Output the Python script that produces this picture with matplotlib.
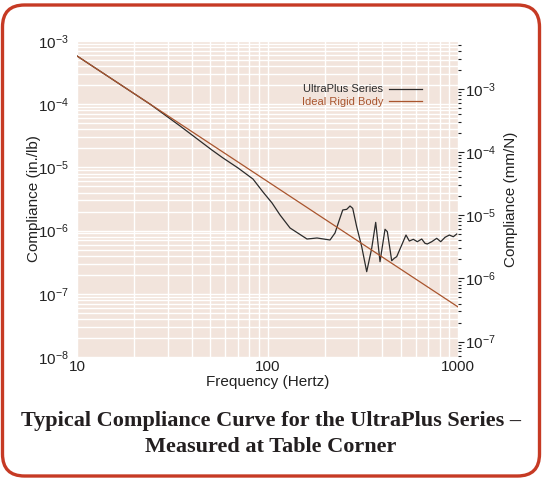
import matplotlib
matplotlib.use("Agg")
import matplotlib.pyplot as plt
from matplotlib.patches import FancyBboxPatch
from matplotlib.ticker import LogLocator, NullFormatter

# -----------------------------
# Data
# -----------------------------
ideal_freq = [10, 1000]
ideal_comp = [5.8e-4, 6.2e-8]

ultra_freq = [10, 24.2, 34.7, 51.1, 58.4, 70.0, 83.9, 94.7, 105.6, 116.3,
              131.3, 161.2, 181.9, 212.9, 226.1, 238.2, 248.3, 260.5, 271.1,
              280.1, 293.9, 312.3, 331.7, 352.4, 369.8, 389.6, 413.9, 425.6,
              448.7, 463.0, 476.7, 506.4, 533.3, 555.2, 582.7, 611.6, 644.9,
              671.1, 690.0, 727.7, 773.1, 811.4, 854.7, 900.5, 944.8, 984.5]
ultra_comp = [5.8e-4, 1.0e-4, 4.54e-5, 1.88e-5, 1.41e-5, 9.8e-6, 6.55e-6,
              4.08e-6, 2.74e-6, 1.77e-6, 1.10e-6, 7.36e-7, 7.64e-7, 7.10e-7,
              9.16e-7, 1.47e-6, 2.12e-6, 2.17e-6, 2.45e-6, 2.25e-6, 1.15e-6,
              5.56e-7, 2.24e-7, 5.25e-7, 1.35e-6, 3.22e-7, 1.05e-6, 9.62e-7,
              3.34e-7, 3.65e-7, 3.87e-7, 5.91e-7, 8.51e-7, 6.84e-7, 7.28e-7,
              6.67e-7, 7.36e-7, 6.29e-7, 6.14e-7, 6.67e-7, 7.55e-7, 6.67e-7,
              7.83e-7, 8.51e-7, 8.0e-7, 8.83e-7]

left_ticks = [1e-3, 1e-4, 1e-5, 1e-6, 1e-7, 1e-8]
left_labels = ["$10^{-3}$", "$10^{-4}$", "$10^{-5}$", "$10^{-6}$", "$10^{-7}$", "$10^{-8}$"]
right_ticks = [1e-3, 1e-4, 1e-5, 1e-6, 1e-7]
right_labels = ["$10^{-3}$", "$10^{-4}$", "$10^{-5}$", "$10^{-6}$", "$10^{-7}$"]
x_ticks = [10, 100, 1000]
x_labels = ["10", "100", "1000"]

IN_LB_TO_MM_N = 25.4 / 4.44822

# -----------------------------
# Style
# -----------------------------
plt.rcParams["font.family"] = ["Liberation Sans", "DejaVu Sans"]
plt.rcParams["mathtext.fontset"] = "custom"
plt.rcParams["mathtext.rm"] = "Liberation Sans"
plt.rcParams["mathtext.it"] = "Liberation Sans"

bg = "#f2e4dc"
brown = "#a9552e"
dark = "#2b2b2b"
red = "#c63a24"

fig = plt.figure(figsize=(5.42, 4.8), dpi=100)
ax = fig.add_axes([77 / 542, 1 - 357 / 480, 381 / 542, 316 / 480])
ax.set_facecolor(bg)

ax.plot(ultra_freq, ultra_comp, color=dark, linewidth=0.9, label="UltraPlus Series")
ax.plot(ideal_freq, ideal_comp, color=brown, linewidth=0.9, label="Ideal Rigid Body")

ax.set_xscale("log")
ax.set_yscale("log")
ax.set_xlim(10, 1000)
ax.set_ylim(1e-8, 1e-3)

ax.xaxis.set_minor_locator(LogLocator(base=10, subs=range(2, 10)))
ax.yaxis.set_minor_locator(LogLocator(base=10, subs=range(2, 10)))
ax.xaxis.set_minor_formatter(NullFormatter())
ax.yaxis.set_minor_formatter(NullFormatter())
ax.grid(True, which="both", color="white", linewidth=1.0)
ax.set_axisbelow(True)

ax.set_xticks(x_ticks)
ax.set_xticklabels(x_labels)
ax.set_yticks(left_ticks)
ax.set_yticklabels(left_labels)
ax.tick_params(which="both", length=0, labelsize=11, colors="#222222")
ax.tick_params(axis="x", pad=2)
ax.tick_params(axis="y", pad=6)
for s in ax.spines.values():
    s.set_visible(False)

ax.set_xlabel("Frequency (Hertz)", fontsize=11, labelpad=1, color="#222222")
ax.set_ylabel("Compliance (in./lb)", fontsize=11, labelpad=-2, color="#222222")

# right axis in mm/N
ax2 = ax.twinx()
ax2.set_yscale("log")
ax2.set_ylim(1e-8 * IN_LB_TO_MM_N, 1e-3 * IN_LB_TO_MM_N)
ax2.set_yticks(right_ticks)
ax2.set_yticklabels(right_labels)
ax2.yaxis.set_minor_locator(LogLocator(base=10, subs=range(2, 10)))
ax2.yaxis.set_minor_formatter(NullFormatter())
ax2.tick_params(axis="y", which="major", length=4, width=0.8, labelsize=11,
                colors="#222222", pad=1)
ax2.tick_params(axis="y", which="minor", length=2, width=0.8, colors="#222222")
for s in ax2.spines.values():
    s.set_visible(False)
ax2.set_ylabel("Compliance (mm/N)", fontsize=11, labelpad=6, color="#222222")

leg = ax.legend(loc="upper left", bbox_to_anchor=(0.575, 0.88), frameon=False,
                markerfirst=False, fontsize=8, handlelength=3.0,
                handletextpad=0.5, labelspacing=0.25, borderpad=0)
for txt, c in zip(leg.get_texts(), [dark, brown]):
    txt.set_color(c)

# caption
fig.text(0.5, 1 - 421 / 480, "Typical Compliance Curve for the UltraPlus Series \u2013",
         ha="center", va="center", fontsize=16, fontweight="bold",
         family="Liberation Serif", color="#231f20")
fig.text(0.5, 1 - 447 / 480, "Measured at Table Corner",
         ha="center", va="center", fontsize=16, fontweight="bold",
         family="Liberation Serif", color="#231f20")

# rounded red frame (display coords)
frame = FancyBboxPatch((2.5, 4), 537, 471, boxstyle="round,pad=0,rounding_size=22",
                       transform=None, facecolor="none", edgecolor=red, linewidth=2.4)
fig.patches.append(frame)

fig.savefig("out.png", dpi=100)
